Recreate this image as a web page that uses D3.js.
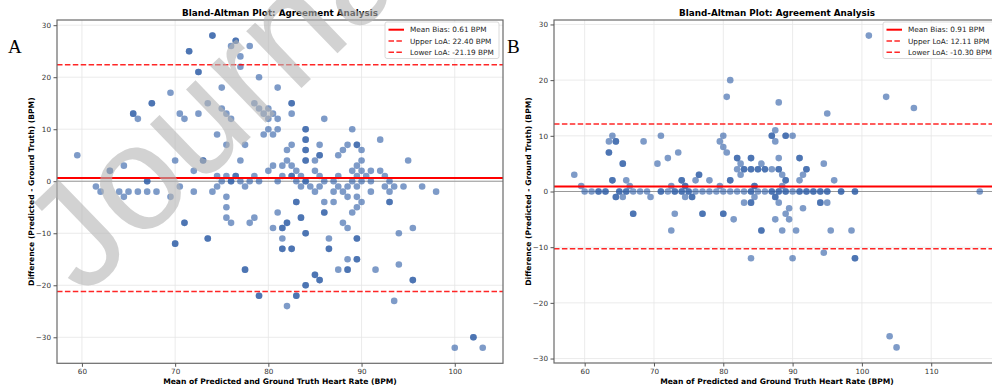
<!DOCTYPE html>
<html>
<head>
<meta charset="utf-8">
<script src="https://cdn.jsdelivr.net/npm/d3@7"></script>
<style>
body { margin: 0; background: #fff; }
svg { display: block; }
</style>
</head>
<body>
<svg width="992" height="390"></svg>
<script>
// [mean, difference] pairs; repeated pairs = darker (overlapping) dots
var pointsA = [
  [74,28],[74,28],[76.5,27],[76.5,27],[76,26],[78,26],[71.5,25],[71.5,25],[77,24],[77,22],
  [72.5,21],[72.5,21],[79,20],[75,18],[81,18],[69.5,17],[67.5,15],[67.5,15],[73.5,15],[78.5,15],
  [82.5,15],[82.5,15],[75,14],[79,14],[80,14],[65.5,13],[65.5,13],[70.5,13],[72.5,13],[75.5,13],
  [79.5,13],[80.5,13],[82.5,13],[66,12],[71,12],[76,12],[80,12],[81,12],[86,12],[80,10],
  [81,10],[84,10],[84,10],[89,10],[74.5,9],[79.5,9],[80.5,9],[84,8],[84,8],[92,8],
  [75.5,7],[77.5,7],[82.5,7],[85.5,7],[88.5,7],[89.5,7],[89.5,7],[82,6],[84,6],[84,6],
  [88,6],[90,6],[59.5,5],[85.5,5],[85.5,5],[87.5,5],[70,4],[73,4],[73,4],[77,4],
  [82,4],[84,4],[84,4],[85,4],[90,4],[95,4],[64.5,3],[80.5,3],[81.5,3],[82.5,3],
  [89.5,3],[63,2],[63,2],[72,2],[80,2],[83,2],[85,2],[89,2],[90,2],[91,2],[92,2],
  [74.5,1],[75.5,1],[76.5,1],[76.5,1],[78.5,1],[81.5,1],[82.5,1],[82.5,1],[83.5,1],[85.5,1],
  [87.5,1],[89.5,1],[90.5,1],[92.5,1],
  [67,0],[67,0],[75,0],[76,0],[76,0],[77,0],[78,0],[79,0],[81,0],[83,0],[84,0],[84,0],
  [86,0],[87,0],[89,0],[90,0],[91,0],[93,0],
  [61.5,-1],[70.5,-1],[74.5,-1],[77.5,-1],[83.5,-1],[84.5,-1],[85.5,-1],[87.5,-1],[88.5,-1],
  [89.5,-1],[92.5,-1],[93.5,-1],[94.5,-1],[96.5,-1],
  [62,-2],[64,-2],[65,-2],[66,-2],[67,-2],[68,-2],[72,-2],[74,-2],[85,-2],[87,-2],[88,-2],
  [91,-2],[93,-2],[98,-2],
  [64.5,-3],[69.5,-3],[75.5,-3],[88.5,-3],[89.5,-3],
  [83,-4],[83,-4],[86,-4],[87,-4],[90,-4],[93,-4],[93,-4],
  [75.5,-5],[89.5,-5],[81,-6],[86,-6],[86,-6],[89,-6],
  [75.5,-7],[78.5,-7],[83.5,-7],[83.5,-7],
  [71,-8],[71,-8],[76,-8],[78,-8],[82,-8],[82,-8],[88,-8],
  [80.5,-9],[81.5,-9],[81.5,-9],[88.5,-9],[95.5,-9],[84,-10],[84,-10],[94,-10],
  [73.5,-11],[73.5,-11],[81.5,-11],[86.5,-11],[89.5,-11],[89.5,-11],[70,-12],[70,-12],
  [81.5,-13],[81.5,-13],[82.5,-13],[82.5,-13],[86.5,-13],[86.5,-13],
  [88.5,-15],[89.5,-15],[89.5,-15],[94,-16],
  [77.5,-17],[77.5,-17],[87.5,-17],[88.5,-17],[88.5,-17],[91.5,-17],
  [85,-18],[85,-18],[85.5,-19],[85.5,-19],[95.5,-19],[95.5,-19],[84,-20],[84,-20],
  [79,-22],[79,-22],[83,-22],[83,-22],[93.5,-23],[82,-24],
  [100,-32],[102,-30],[102,-30],[103,-32]
];

var pointsB = [
  [101,28],[81,20],[80.5,17],[103.5,17],[88,16],[107.5,15],[95,14],[87.5,11],
  [64,10],[71,10],[80,10],[87,10],[87,10],[89,10],[89,10],[90,10],
  [63.5,9],[64.5,9],[64.5,9],[68.5,9],[79.5,9],[87.5,9],[80,8],
  [63.5,7],[63.5,7],[73.5,7],[80.5,7],
  [72,6],[82,6],[82,6],[84,6],[84,6],[88,6],[91,6],[91,6],
  [65.5,5],[65.5,5],[70.5,5],[82.5,5],[85.5,5],[94.5,5],
  [82,4],[83,4],[83,4],[84,4],[84,4],[85,4],[85,4],[86,4],[86,4],[87,4],[88,4],[88,4],[92,4],[92,4],
  [58.5,3],[76.5,3],[76.5,3],[82.5,3],[88.5,3],[91.5,3],
  [64,2],[64,2],[66,2],[74,2],[74,2],[76,2],[78,2],[81,2],[81,2],[89,2],[89,2],[91,2],[96,2],
  [59.5,1],[66.5,1],[72.5,1],[74.5,1],[74.5,1],[79.5,1],[84.5,1],[84.5,1],[88.5,1],
  [60,0],[61,0],[62,0],[62,0],[63,0],[63,0],[65,0],[65,0],[66,0],[66,0],[67,0],[68,0],[69,0],
  [71,0],[71,0],[72,0],[73,0],[73,0],[74,0],[74,0],[75,0],[75,0],[76,0],[77,0],[78,0],[79,0],
  [80,0],[81,0],[82,0],[83,0],[84,0],[84,0],[85,0],[86,0],[87,0],[87,0],[88,0],[88,0],
  [89,0],[89,0],[90,0],[91,0],[91,0],[92,0],[92,0],[93,0],[93,0],[94,0],[94,0],[95,0],[95,0],
  [97,0],[97,0],[99,0],[99,0],[117,0],
  [64.5,-1],[64.5,-1],[65.5,-1],[69.5,-1],[74.5,-1],[75.5,-1],[75.5,-1],[84.5,-1],[87.5,-1],[87.5,-1],
  [83,-2],[84,-2],[84,-2],[88,-2],[94,-2],[94,-2],[95,-2],
  [89.5,-3],[91.5,-3],
  [67,-4],[67,-4],[73,-4],[77,-4],[77,-4],[80,-4],[80,-4],[89,-4],
  [81.5,-5],[87.5,-5],[89.5,-5],
  [72.5,-7],[85.5,-7],[85.5,-7],[88.5,-7],[90.5,-7],[95.5,-7],[98.5,-7],
  [94.5,-11],[84,-12],[90,-12],[99,-12],[99,-12],
  [104,-26],[105,-28]
];

// mean bias, upper LoA, lower LoA
var statsA = [0.61, 22.40, -21.19];
var statsB = [0.91, 12.11, -10.30];

var xTicksA = [60, 70, 80, 90, 100];
var xTicksB = [60, 70, 80, 90, 100, 110];
var yTicks = [-30, -20, -10, 0, 10, 20, 30];

var titleText = "Bland-Altman Plot: Agreement Analysis";
var xLabel = "Mean of Predicted and Ground Truth Heart Rate (BPM)";
var yLabel = "Difference (Predicted - Ground Truth) (BPM)";
var watermarkText = "Journal";

var svg = d3.select("svg");
var font = "DejaVu Sans, sans-serif";

// padded extent like matplotlib's 5% margin
function padded(vals) {
  var e = d3.extent(vals);
  var m = (e[1] - e[0]) * 0.05;
  return [e[0] - m, e[1] + m];
}

function drawPanel(p) {
  var x = d3.scaleLinear()
    .domain(padded(p.points.map(function(d){ return d[0]; })))
    .range([p.left, p.right]);
  var y = d3.scaleLinear()
    .domain(padded(p.points.map(function(d){ return d[1]; })))
    .range([p.bottom, p.top]);

  var g = svg.append("g");

  // grid
  g.selectAll(".gx").data(p.xTicks).enter().append("line")
    .attr("x1", function(d){ return x(d); }).attr("x2", function(d){ return x(d); })
    .attr("y1", p.top).attr("y2", p.bottom)
    .attr("stroke", "#e6e6e6").attr("stroke-width", 0.8);
  g.selectAll(".gy").data(p.yTicks).enter().append("line")
    .attr("y1", function(d){ return y(d); }).attr("y2", function(d){ return y(d); })
    .attr("x1", p.left).attr("x2", p.right)
    .attr("stroke", "#e6e6e6").attr("stroke-width", 0.8);

  // zero line
  g.append("line")
    .attr("x1", p.left).attr("x2", p.right)
    .attr("y1", y(0)).attr("y2", y(0))
    .attr("stroke", "#999").attr("stroke-width", 1);

  // points
  g.selectAll("circle").data(p.points).enter().append("circle")
    .attr("cx", function(d){ return x(d[0]); })
    .attr("cy", function(d){ return y(d[1]); })
    .attr("r", 3.3)
    .attr("fill", "#2f5ea6")
    .attr("fill-opacity", 0.62);

  // bias and limits
  g.append("line")
    .attr("x1", p.left).attr("x2", p.right)
    .attr("y1", y(p.stats[0])).attr("y2", y(p.stats[0]))
    .attr("stroke", "#ff0000").attr("stroke-width", 2);
  [p.stats[1], p.stats[2]].forEach(function(v){
    g.append("line")
      .attr("x1", p.left).attr("x2", p.right)
      .attr("y1", y(v)).attr("y2", y(v))
      .attr("stroke", "#ff0000").attr("stroke-opacity", 0.85)
      .attr("stroke-width", 1.5).attr("stroke-dasharray", "5.5,2.4");
  });

  // frame
  g.append("rect")
    .attr("x", p.left).attr("y", p.top)
    .attr("width", p.right - p.left).attr("height", p.bottom - p.top)
    .attr("fill", "none").attr("stroke", "#6a6a6a").attr("stroke-width", 1.2);

  // axes
  var xAxis = d3.axisBottom(x).tickValues(p.xTicks).tickSize(3.5).tickPadding(2.5);
  var yAxis = d3.axisLeft(y).tickValues(p.yTicks).tickSize(3.5).tickPadding(2.5);
  var ax = g.append("g").attr("transform", "translate(0," + p.bottom + ")").call(xAxis);
  var ay = g.append("g").attr("transform", "translate(" + p.left + ",0)").call(yAxis);
  [ax, ay].forEach(function(a){
    a.select(".domain").remove();
    a.selectAll("line").attr("stroke", "#555");
    a.selectAll("text").attr("font-family", font).attr("font-size", 7.2).attr("fill", "#333");
  });

  // titles
  g.append("text").text(titleText)
    .attr("x", (p.left + p.right) / 2).attr("y", 15.5)
    .attr("text-anchor", "middle")
    .attr("font-family", font).attr("font-size", 8.8).attr("font-weight", "bold");
  g.append("text").text(xLabel)
    .attr("x", (p.left + p.right) / 2).attr("y", 384)
    .attr("text-anchor", "middle")
    .attr("font-family", font).attr("font-size", 7.6).attr("font-weight", "bold");
  g.append("text").text(yLabel)
    .attr("transform", "translate(" + (p.left - 23.5) + "," + ((p.top + p.bottom) / 2) + ") rotate(-90)")
    .attr("text-anchor", "middle")
    .attr("font-family", font).attr("font-size", 7.6).attr("font-weight", "bold");

  // legend
  var labels = [
    "Mean Bias: " + p.stats[0].toFixed(2) + " BPM",
    "Upper LoA: " + p.stats[1].toFixed(2) + " BPM",
    "Lower LoA: " + p.stats[2].toFixed(2) + " BPM"
  ];
  var lg = g.append("g").attr("transform", "translate(" + p.legendX + ",22)");
  lg.append("rect").attr("width", 114).attr("height", 36.5)
    .attr("rx", 2).attr("fill", "#fff").attr("fill-opacity", 0.85)
    .attr("stroke", "#d0d0d0").attr("stroke-width", 0.8);
  labels.forEach(function(t, i){
    var yy = 7.7 + i * 11.3;
    lg.append("line").attr("x1", 3.5).attr("x2", 19).attr("y1", yy).attr("y2", yy)
      .attr("stroke", "#ff0000")
      .attr("stroke-width", i == 0 ? 2 : 1.5)
      .attr("stroke-opacity", i == 0 ? 1 : 0.85)
      .attr("stroke-dasharray", i == 0 ? null : "5.5,2.4");
    lg.append("text").text(t).attr("x", 25).attr("y", yy + 2.6)
      .attr("font-family", font).attr("font-size", 7.3).attr("fill", "#222");
  });

  // panel letter
  svg.append("text").text(p.letter)
    .attr("x", p.letterX).attr("y", 53)
    .attr("font-family", "Liberation Serif, serif").attr("font-size", 19);
}

drawPanel({ points: pointsA, stats: statsA, xTicks: xTicksA, yTicks: yTicks,
  left: 57, right: 503, top: 20, bottom: 363.3, legendX: 385, letter: "A", letterX: 8 });
drawPanel({ points: pointsB, stats: statsB, xTicks: xTicksB, yTicks: yTicks,
  left: 554, right: 1000, top: 20, bottom: 363, legendX: 883, letter: "B", letterX: 507 });

// watermark laid over panel A, semi-transparent
svg.append("text")
  .text(watermarkText)
  .attr("transform", "translate(84,298) rotate(-44)")
  .attr("font-family", "Liberation Sans, Arial, sans-serif")
  .attr("font-size", 150)
  .attr("fill", "#b4b4b4")
  .attr("fill-opacity", 0.6);
</script>
</body>
</html>
